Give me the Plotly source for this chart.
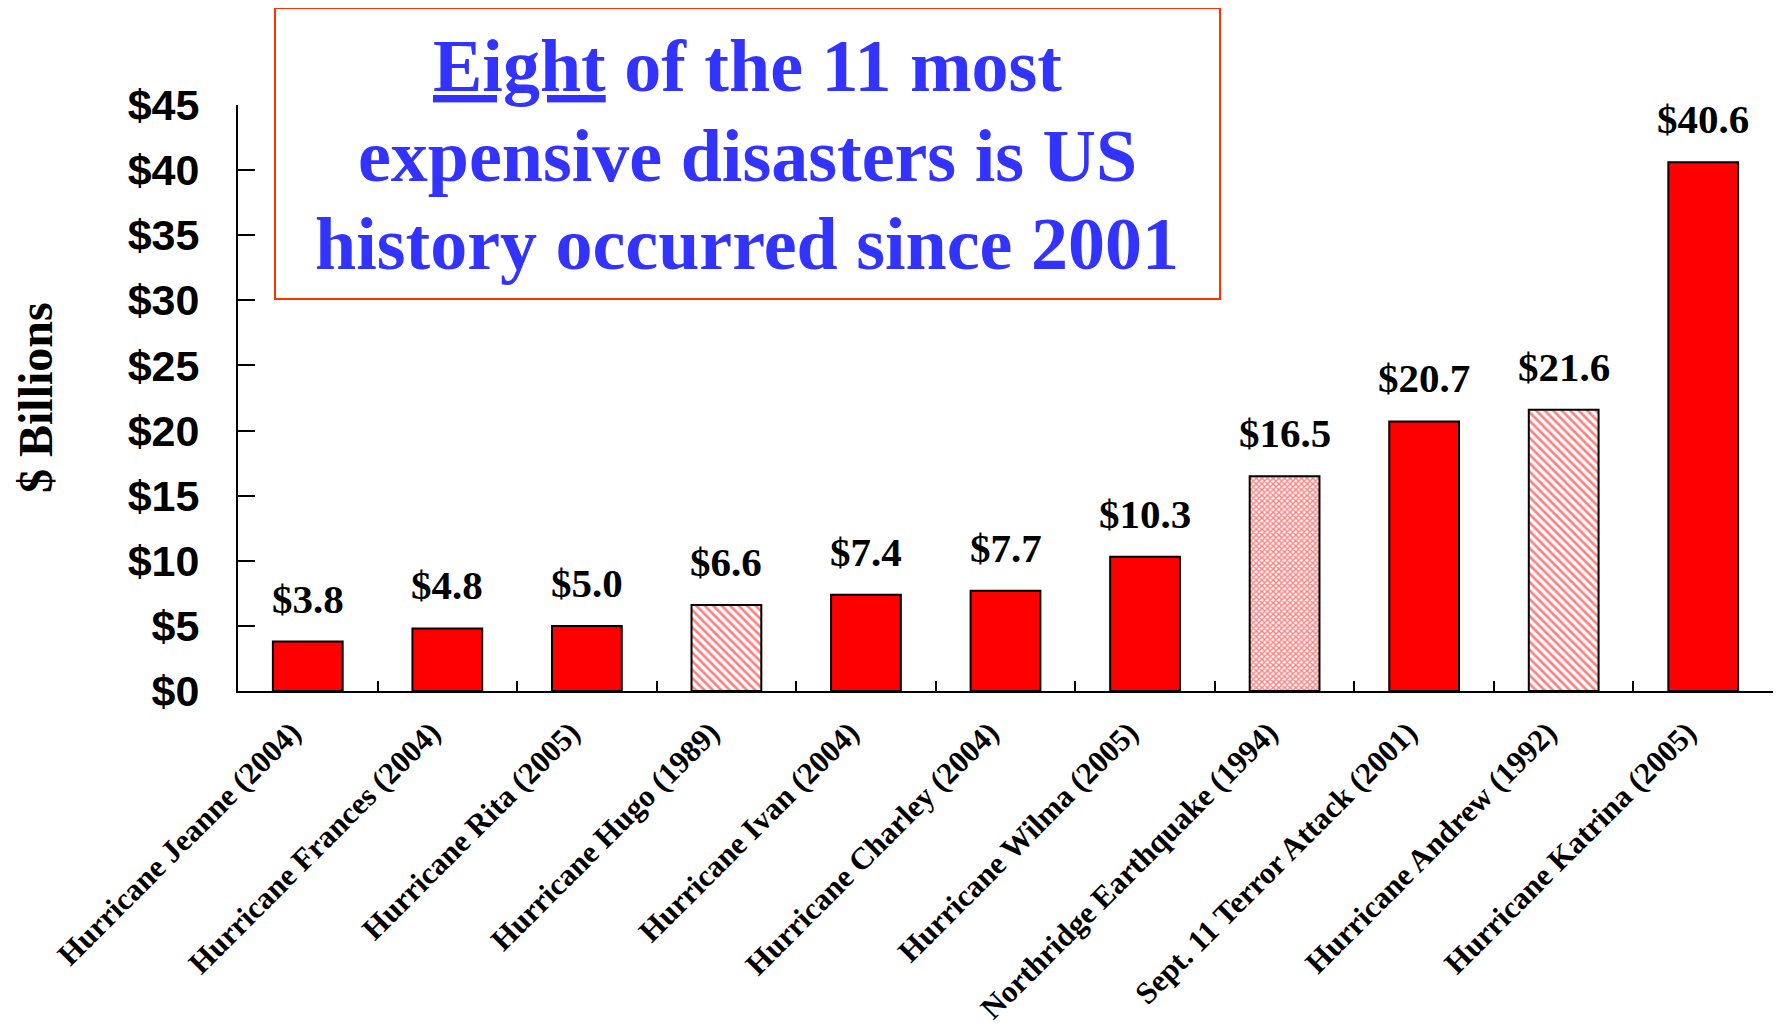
import plotly.graph_objects as go

# -------------------------------
# Data
# -------------------------------
disasters = [
    "Hurricane Jeanne (2004)",
    "Hurricane Frances (2004)",
    "Hurricane Rita (2005)",
    "Hurricane Hugo (1989)",
    "Hurricane Ivan (2004)",
    "Hurricane Charley (2004)",
    "Hurricane Wilma (2005)",
    "Northridge Earthquake (1994)",
    "Sept. 11 Terror Attack (2001)",
    "Hurricane Andrew (1992)",
    "Hurricane Katrina (2005)",
]
cost_billions = [3.8, 4.8, 5.0, 6.6, 7.4, 7.7, 10.3, 16.5, 20.7, 21.6, 40.6]
# bars before 2001 get a pattern instead of solid fill
fill_pattern = ["", "", "", "\\", "", "", "", "x", "", "\\", ""]

y_ticks = [0, 5, 10, 15, 20, 25, 30, 35, 40, 45]

title_lines = [
    "<span style='text-decoration: underline'>Eight</span> of the 11 most",
    "expensive disasters is US",
    "history occurred since 2001",
]

SERIF = "Liberation Serif"
SANS = "Liberation Sans"

# page body adds an 8px offset, so the figure is sized to fit inside it
W, H = 1765, 1018
L, T, B = 230, 97, 335
PW, PH = W - L, H - T - B


def px(x):  # screen x -> paper
    return (x - 8 - L) / PW


def py(y):  # screen y -> paper
    return (H - B - (y - 8)) / PH


# -------------------------------
# Figure
# -------------------------------
fig = go.Figure()

fig.add_trace(
    go.Bar(
        x=disasters,
        y=cost_billions,
        width=0.5,
        marker=dict(
            color="#FF0000",
            line=dict(color="black", width=2),
            pattern=dict(
                shape=fill_pattern,
                fgcolor="#FF0000",
                bgcolor="white",
                size=[6 if p == "\\" else 4 for p in fill_pattern],
                solidity=[0.45 if p == "\\" else 0.6 for p in fill_pattern],
            ),
        ),
        hoverinfo="x+y",
    )
)

# value labels above bars
for name, val in zip(disasters, cost_billions):
    fig.add_annotation(
        x=name, y=val, text=f"${val:.1f}",
        showarrow=False, yanchor="bottom", yshift=18,
        font=dict(family=SERIF, size=41, color="black", weight="bold"),
    )

# y axis title
fig.add_annotation(
    xref="paper", yref="paper", x=px(35), y=py(398),
    text="$ Billions", textangle=-90, showarrow=False,
    xanchor="center", yanchor="middle",
    font=dict(family=SERIF, size=48, color="black", weight="bold"),
)

# headline box
fig.add_shape(
    type="rect", xref="paper", yref="paper",
    x0=px(275), x1=px(1220), y0=py(299), y1=py(8),
    line=dict(color="#FF3300", width=2), fillcolor="white",
)
for line, yc in zip(title_lines, [66, 156, 244]):
    fig.add_annotation(
        xref="paper", yref="paper", x=px(747), y=py(yc),
        text=line, showarrow=False, xanchor="center", yanchor="middle",
        font=dict(family=SERIF, size=74, color="#3333FF", weight="bold"),
    )

fig.update_layout(
    width=W,
    height=H,
    margin=dict(l=L, r=0, t=T, b=B),
    paper_bgcolor="white",
    plot_bgcolor="white",
    showlegend=False,
    bargap=0.5,
)

fig.update_xaxes(
    automargin=False,
    showline=True, linecolor="black", linewidth=2,
    ticks="inside", tickson="boundaries", ticklen=10, tickcolor="black", tickwidth=2,
    tickangle=-45, ticklabelstandoff=9, ticklabelshift=-16,
    tickfont=dict(family=SERIF, size=31, color="black", weight="bold"),
    showgrid=False,
)
fig.update_yaxes(
    automargin=False,
    range=[0, 45], tickvals=y_ticks, ticktext=[f"${v}" for v in y_ticks],
    showline=True, linecolor="black", linewidth=2,
    ticks="inside", ticklen=17, tickcolor="black", tickwidth=2,
    ticklabelstandoff=28,
    tickfont=dict(family=SANS, size=43, color="black", weight="bold"),
    showgrid=False, zeroline=False,
)

fig.write_html("out.html")
